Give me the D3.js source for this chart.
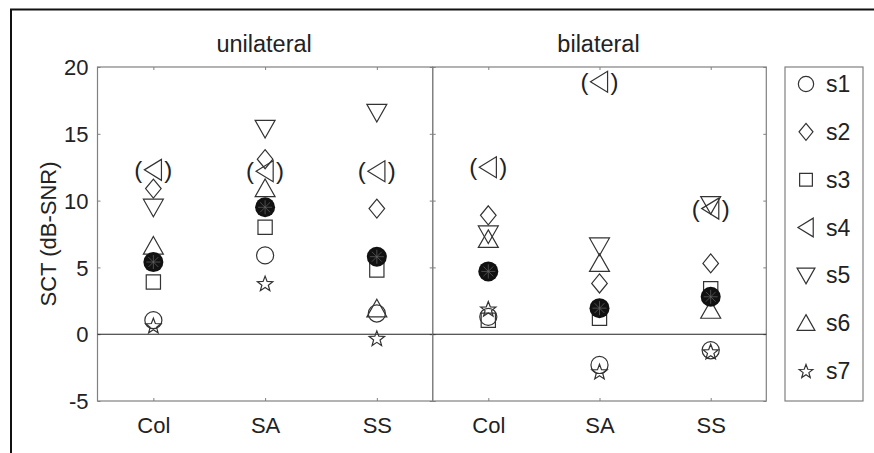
<!DOCTYPE html>
<html><head><meta charset="utf-8">
<script src="https://cdn.jsdelivr.net/npm/d3@7"></script>
<style>body{margin:0;background:#fff}svg{display:block}text{font-family:"Liberation Sans",Arial,sans-serif;fill:#222}</style>
</head><body><svg id="c" width="874" height="453"></svg>
<script>
const panels = ["unilateral", "bilateral"];
const conditions = ["Col", "SA", "SS"];
const seriesNames = ["s1", "s2", "s3", "s4", "s5", "s6", "s7"];
const seriesShapes = ["circle", "diamond", "square", "left", "down", "up", "star"];
// values per series: unilateral Col, SA, SS, bilateral Col, SA, SS
const s1 = [1.05, 5.9, 1.55, 1.3, -2.3, -1.2];
const s2 = [10.9, 13.1, 9.4, 8.9, 3.8, 5.3];
const s3 = [3.9, 8.0, 4.8, 1.05, 1.2, 3.4];
const s4 = [12.3, 12.2, 12.2, 12.5, 18.9, 9.4];
const s5 = [9.5, 15.4, 16.6, 7.5, 6.6, 9.7];
const s6 = [6.6, 10.9, 1.9, 7.1, 5.3, 1.8];
const s7 = [0.65, 3.8, -0.3, 1.9, -2.8, -1.3];
const meanVals = [5.4, 9.5, 5.8, 4.7, 1.95, 2.8];
const yTicks = [-5, 0, 5, 10, 15, 20];
const yTickLabels = ["-5", "0", "5", "10", "15", "20"];
const yLabel = "SCT (dB-SNR)";
const parenSeries = "s4";

const seriesVals = [s1, s2, s3, s4, s5, s6, s7];
const svg = d3.select("#c");
const stroke = "#333";
const axisCol = "#808080";
const FS = 22;

// outer frame
svg.append("rect").attr("x", 11).attr("y", 9.5).attr("width", 900).attr("height", 500)
  .attr("fill", "none").attr("stroke", "#111").attr("stroke-width", 2);

const y = d3.scaleLinear().domain([-5, 20]).range([401, 67]);
const panelX = [[97.5, 432.7], [432.7, 766.3]];
const xs = panelX.map(r => d3.scaleLinear().domain([0.5, 3.5]).range(r));

function markerPath(shape, s) {
  const h = s / 2;
  const p = d3.path();
  if (shape === "circle") { p.moveTo(h*0.9, 0); p.arc(0, 0, h*0.9, 0, 2*Math.PI); }
  else if (shape === "diamond") { p.moveTo(0,-h*1.0); p.lineTo(h*0.82,0); p.lineTo(0,h*1.0); p.lineTo(-h*0.82,0); p.closePath(); }
  else if (shape === "square") { const q = h*0.75; p.rect(-q,-q,2*q,2*q); }
  else if (shape === "up") { p.moveTo(0,-h); p.lineTo(h*1.05,h*0.85); p.lineTo(-h*1.05,h*0.85); p.closePath(); }
  else if (shape === "down") { p.moveTo(0,h); p.lineTo(h*1.05,-h*0.85); p.lineTo(-h*1.05,-h*0.85); p.closePath(); }
  else if (shape === "left") { p.moveTo(-h*0.95,0); p.lineTo(h*0.85,-h*1.1); p.lineTo(h*0.85,h*1.1); p.closePath(); }
  else if (shape === "star") {
    const ro = h*0.85, ri = ro*0.42;
    for (let i = 0; i < 10; i++) {
      const r = i % 2 ? ri : ro;
      const a = -Math.PI/2 + i*Math.PI/5;
      const px = r*Math.cos(a), py = r*Math.sin(a) + h*0.08;
      i ? p.lineTo(px, py) : p.moveTo(px, py);
    }
    p.closePath();
  }
  return p.toString();
}

const mSize = 19;

panels.forEach((pn, pi) => {
  const x = xs[pi];
  const [x0, x1] = panelX[pi];
  const g = svg.append("g");
  // frame
  g.append("rect").attr("x", x0).attr("y", y(20)).attr("width", x1 - x0).attr("height", y(-5) - y(20))
    .attr("fill", "none").attr("stroke", axisCol).attr("stroke-width", 1.2);
  // x ticks bottom / top
  const axB = d3.axisBottom(x).tickValues([1,2,3]).tickSize(-3).tickFormat(i => conditions[i-1]).tickPadding(16);
  const gb = g.append("g").attr("transform", `translate(0,${y(-5)})`).call(axB);
  const axT = d3.axisTop(x).tickValues([1,2,3]).tickSize(-3).tickFormat("");
  const gt = g.append("g").attr("transform", `translate(0,${y(20)})`).call(axT);
  // y ticks left/right inward
  const axL = d3.axisLeft(y).tickValues(yTicks).tickSize(-3).tickPadding(9)
    .tickFormat(pi === 0 ? (v => yTickLabels[yTicks.indexOf(v)]) : "");
  const gl = g.append("g").attr("transform", `translate(${x0},0)`).call(axL);
  const axR = d3.axisRight(y).tickValues(yTicks).tickSize(-3).tickFormat("");
  const gr = g.append("g").attr("transform", `translate(${x1},0)`).call(axR);
  [gb, gt, gl, gr].forEach(a => {
    a.attr("font-size", FS).attr("font-family", '"Liberation Sans",Arial,sans-serif');
    a.select(".domain").remove();
    a.selectAll(".tick line").attr("stroke", axisCol).attr("stroke-width", 1);
    a.selectAll(".tick text").attr("font-size", FS).attr("fill", "#222");
  });
  gb.selectAll(".tick text").attr("dy", "0.71em");
  gl.selectAll(".tick text").attr("dy", "0.35em");
  // zero line
  g.append("line").attr("x1", x0).attr("x2", x1).attr("y1", y(0)).attr("y2", y(0))
    .attr("stroke", "#222").attr("stroke-width", 1.1);
  // title
  g.append("text").attr("x", (x0 + x1) / 2 - 1).attr("y", 52).attr("text-anchor", "middle")
    .attr("font-size", 23.5).text(pn);

  // markers
  seriesVals.forEach((vals, si) => {
    conditions.forEach((c, ci) => {
      const v = vals[pi*3 + ci];
      const cx = x(ci + 1), cy = y(v);
      g.append("path").attr("d", markerPath(seriesShapes[si], mSize))
        .attr("transform", `translate(${cx},${cy})`)
        .attr("fill", "none").attr("stroke", stroke).attr("stroke-width", 1.2);
      if (seriesNames[si] === parenSeries) {
        g.append("text").attr("x", cx - 15).attr("y", cy).attr("dy", "0.33em").attr("text-anchor", "middle")
          .attr("font-size", 24).text("(");
        g.append("text").attr("x", cx + 15).attr("y", cy).attr("dy", "0.33em").attr("text-anchor", "middle")
          .attr("font-size", 24).text(")");
      }
    });
  });
  // means
  conditions.forEach((c, ci) => {
    const v = meanVals[pi*3 + ci];
    const cx = x(ci + 1), cy = y(v);
    const mg = g.append("g").attr("transform", `translate(${cx},${cy})`);
    mg.append("circle").attr("r", 10).attr("fill", "#111");
    const ap = d3.path();
    for (let k = 0; k < 8; k++) {
      const a = k * Math.PI / 4;
      ap.moveTo(0, 0); ap.lineTo(7*Math.cos(a), 7*Math.sin(a));
    }
    mg.append("path").attr("d", ap.toString()).attr("stroke", "#666").attr("stroke-width", 0.7);
  });
});

// y label
svg.append("text").attr("transform", `translate(56,${(y(20)+y(-5))/2}) rotate(-90)`)
  .attr("text-anchor", "middle").attr("font-size", FS).text(yLabel);

// legend
const lg = svg.append("g");
lg.append("rect").attr("x", 785).attr("y", 67).attr("width", 78).attr("height", 334)
  .attr("fill", "#fff").attr("stroke", axisCol).attr("stroke-width", 1.2);
const ly = d3.scalePoint().domain(seriesNames).range([84, 371]);
seriesNames.forEach((n, i) => {
  lg.append("path").attr("d", markerPath(seriesShapes[i], 17))
    .attr("transform", `translate(806,${ly(n)})`)
    .attr("fill", "none").attr("stroke", stroke).attr("stroke-width", 1.2);
  lg.append("text").attr("x", 826).attr("y", ly(n)).attr("dy", "0.35em").attr("font-size", 23).text(n);
});
</script></body></html>
